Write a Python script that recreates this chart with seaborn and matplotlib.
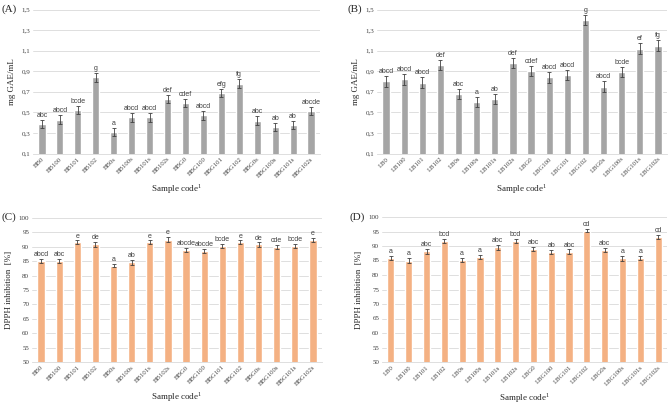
import numpy as np
import pandas as pd
import seaborn as sns
import matplotlib.pyplot as plt

# sample codes
bb_codes = ['BB0', 'BB100', 'BB101', 'BB102', 'BB0s', 'BB100s', 'BB101s', 'BB102s',
            'BBG0', 'BBG100', 'BBG101', 'BBG102', 'BBG0s', 'BBG100s', 'BBG101s', 'BBG102s']
lb_codes = ['LB0', 'LB100', 'LB101', 'LB102', 'LB0s', 'LB100s', 'LB101s', 'LB102s',
            'LBG0', 'LBG100', 'LBG101', 'LBG102', 'LBG0s', 'LBG100s', 'LBG101s', 'LBG102s']

# (A) total phenolics BB
gae_bb = [0.39, 0.43, 0.52, 0.84, 0.31, 0.45, 0.45, 0.63, 0.59, 0.47, 0.69, 0.78, 0.42, 0.36, 0.38, 0.51]
gae_bb_err = [0.04, 0.04, 0.04, 0.04, 0.04, 0.04, 0.04, 0.04, 0.04, 0.04, 0.04, 0.04, 0.04, 0.04, 0.04, 0.04]
gae_bb_let = ['abc', 'abcd', 'bcde', 'g', 'a', 'abcd', 'abcd', 'def', 'cdef', 'abcd', 'efg', 'fg',
              'abc', 'ab', 'ab', 'abcde']

# (B) total phenolics LB
gae_lb = [0.80, 0.82, 0.79, 0.96, 0.68, 0.60, 0.63, 0.98, 0.90, 0.84, 0.86, 1.40, 0.75, 0.89, 1.12, 1.15]
gae_lb_err = [0.05, 0.05, 0.05, 0.05, 0.05, 0.05, 0.05, 0.05, 0.05, 0.05, 0.05, 0.05, 0.05, 0.05, 0.05, 0.05]
gae_lb_let = ['abcd', 'abcd', 'abcd', 'def', 'abc', 'a', 'ab', 'def', 'cdef', 'abcd', 'abcd', 'g',
              'abcd', 'bcde', 'ef', 'fg']

# (C) DPPH BB
dpph_bb = [85.2, 85.1, 91.5, 90.9, 83.5, 84.6, 91.5, 92.5, 88.8, 88.6, 90.2, 91.5, 90.8, 89.8, 90.4, 92.5]
dpph_bb_err = [0.7, 0.7, 0.7, 0.8, 0.6, 0.8, 0.7, 0.8, 0.7, 0.6, 0.7, 0.7, 0.7, 0.7, 0.7, 0.7]
dpph_bb_let = ['abcd', 'abc', 'e', 'de', 'a', 'ab', 'e', 'e', 'abcde', 'abcde', 'bcde', 'e',
               'de', 'cde', 'bcde', 'e']

# (D) DPPH LB
dpph_lb = [85.9, 85.0, 88.2, 91.7, 85.2, 86.2, 89.5, 91.7, 89.0, 87.8, 88.1, 95.3, 88.5, 85.7, 86.0, 93.0]
dpph_lb_err = [0.7, 0.8, 0.8, 0.7, 0.7, 0.7, 0.8, 0.7, 0.7, 0.7, 0.7, 0.6, 0.7, 0.8, 0.7, 0.7]
dpph_lb_let = ['a', 'a', 'abc', 'bcd', 'a', 'a', 'abc', 'bcd', 'abc', 'ab', 'abc', 'cd',
               'abc', 'a', 'a', 'cd']

sns.set_style('white')
plt.rcParams['font.family'] = ['Liberation Serif', 'DejaVu Serif']

W, H = 669, 405
fig = plt.figure(figsize=(W / 100, H / 100), dpi=100)


def px_axes(left, top, right, bottom):
    return fig.add_axes([left / W, 1 - bottom / H, (right - left) / W, (bottom - top) / H])


def panel(ax, codes, vals, errs, lets, color, ylim, yticks, ytl, ylabel, off):
    df = pd.DataFrame({'code': codes, 'val': vals})
    sns.barplot(data=df, x='code', y='val', color=color, width=0.4, saturation=1,
                errorbar=None, ax=ax, zorder=3)
    x = np.arange(len(codes))
    ax.errorbar(x, vals, yerr=errs, fmt='none', ecolor='#404040', elinewidth=0.6,
                capsize=1.6, capthick=0.6, zorder=4)
    for i in range(len(codes)):
        ax.text(x[i], vals[i] + errs[i] + off, lets[i], ha='center', va='bottom',
                fontsize=5, color='#404040', family=['Liberation Sans', 'DejaVu Sans'])
    ax.set_ylim(*ylim)
    ax.set_xlim(-0.5, len(codes) - 0.5)
    ax.set_yticks(yticks)
    ax.set_yticklabels(ytl, fontsize=5, color='#404040')
    ax.set_xticks(x)
    ax.set_xticklabels(codes, rotation=45, ha='right', rotation_mode='anchor',
                       fontsize=4.8, color='#404040')
    ax.tick_params(axis='both', length=0, pad=2)
    ax.yaxis.grid(True, color='#d9d9d9', linewidth=0.6, zorder=0)
    ax.set_axisbelow(True)
    for s in ['left', 'right', 'top']:
        ax.spines[s].set_visible(False)
    ax.spines['bottom'].set_color('#d9d9d9')
    ax.spines['bottom'].set_linewidth(0.6)
    ax.set_ylabel(ylabel, fontsize=6.5, labelpad=4)
    ax.set_xlabel('Sample code$^{\\mathregular{1}}$', fontsize=6.5)
    ax.xaxis.set_label_coords(0.5, -0.2)


gray = '#a5a5a5'
orange = '#f4b183'
gae_ticks = [0.1, 0.3, 0.5, 0.7, 0.9, 1.1, 1.3, 1.5]
gae_tl = ['0,1', '0,3', '0,5', '0,7', '0,9', '1,1', '1,3', '1,5']
dp_ticks = list(range(50, 101, 5))
dp_tl = [str(t) for t in dp_ticks]

axA = px_axes(33, 9.5, 320, 153.5)
panel(axA, bb_codes, gae_bb, gae_bb_err, gae_bb_let, gray, (0.1, 1.5), gae_ticks, gae_tl,
      'mg GAE/mL', 0.01)
axB = px_axes(377, 9.5, 667, 153.5)
panel(axB, lb_codes, gae_lb, gae_lb_err, gae_lb_let, gray, (0.1, 1.5), gae_ticks, gae_tl,
      'mg GAE/mL', 0.01)
axC = px_axes(32, 218, 322, 362)
panel(axC, bb_codes, dpph_bb, dpph_bb_err, dpph_bb_let, orange, (50, 100), dp_ticks, dp_tl,
      'DPPH inhibition  [%]', 0.3)
axD = px_axes(382, 217, 667, 362)
panel(axD, lb_codes, dpph_lb, dpph_lb_err, dpph_lb_let, orange, (50, 100), dp_ticks, dp_tl,
      'DPPH inhibition  [%]', 0.3)

for lab, xp, yp in [('(A)', 2, 9), ('(B)', 347, 9), ('(C)', 2, 217), ('(D)', 349, 217)]:
    fig.text(xp / W, 1 - yp / H, lab, fontsize=8, ha='left', va='center')

fig.savefig('out.png', dpi=100)
